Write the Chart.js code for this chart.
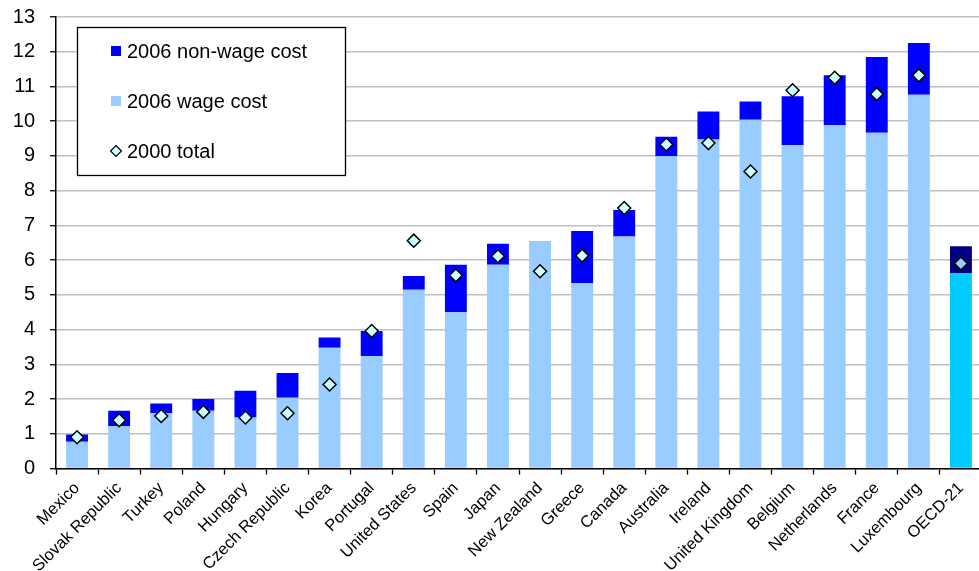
<!DOCTYPE html>
<html>
<head>
<meta charset="utf-8">
<script src="https://cdn.jsdelivr.net/npm/chart.js@4/dist/chart.umd.min.js"></script>
<style>
  html, body { margin: 0; padding: 0; background: #fff; overflow: hidden; }
  #wrap { width: 990px; height: 571px; }
</style>
</head>
<body>
<div id="wrap"><canvas id="c" width="990" height="571"></canvas></div>
<script>
// Hourly labour cost per country, 2006 split into wage and non-wage parts, with the 2000 total
const countries = ["Mexico", "Slovak Republic", "Turkey", "Poland", "Hungary", "Czech Republic", "Korea",
  "Portugal", "United States", "Spain", "Japan", "New Zealand", "Greece", "Canada", "Australia",
  "Ireland", "United Kingdom", "Belgium", "Netherlands", "France", "Luxembourg", "OECD-21"];

const wageCost2006 = [0.77, 1.22, 1.59, 1.66, 1.47, 2.04, 3.48, 3.24, 5.15, 4.50, 5.87, 6.55, 5.34,
  6.68, 8.99, 9.47, 10.04, 9.31, 9.88, 9.67, 10.76, 5.63];

const nonWageCost2006 = [0.21, 0.44, 0.28, 0.34, 0.77, 0.71, 0.29, 0.72, 0.39, 1.37, 0.60, 0.00, 1.50,
  0.76, 0.56, 0.81, 0.53, 1.41, 1.44, 2.18, 1.49, 0.77];

const total2000 = [0.90, 1.39, 1.51, 1.63, 1.47, 1.59, 2.42, 3.96, 6.56, 5.56, 6.11, 5.68, 6.13,
  7.50, 9.33, 9.37, 8.55, 10.89, 11.25, 10.78, 11.32, 5.90];

const yTicks = [0, 1, 2, 3, 4, 5, 6, 7, 8, 9, 10, 11, 12, 13];

const FONT = "'Liberation Sans', Arial, sans-serif";
const last = countries.length - 1;
const pick = (normal, avg) => countries.map((_, i) => (i === last ? avg : normal));

// Legend drawn inside the plot, as a framed box at the upper left
const boxLegend = {
  id: 'boxLegend',
  afterDraw(chart) {
    const ctx = chart.ctx;
    const x0 = 77.5, y0 = 27.5, w = 268, h = 148;
    ctx.save();
    ctx.fillStyle = '#fff';
    ctx.fillRect(x0, y0, w, h);
    ctx.strokeStyle = '#000';
    ctx.lineWidth = 1.3;
    ctx.strokeRect(x0, y0, w, h);
    ctx.font = '20px ' + FONT;
    ctx.textBaseline = 'middle';
    ctx.fillStyle = '#000';
    const items = [
      { text: chart.data.datasets[1].label, kind: 'box', color: '#0000FF', y: 51 },
      { text: chart.data.datasets[0].label, kind: 'box', color: '#99CCFF', y: 101 },
      { text: chart.data.datasets[2].label, kind: 'diamond', color: '#CCFFFF', y: 151 }
    ];
    items.forEach(it => {
      if (it.kind === 'box') {
        ctx.fillStyle = it.color;
        ctx.fillRect(111, it.y - 5, 10, 10);
      } else {
        ctx.beginPath();
        ctx.moveTo(116, it.y - 5.5);
        ctx.lineTo(121.5, it.y);
        ctx.lineTo(116, it.y + 5.5);
        ctx.lineTo(110.5, it.y);
        ctx.closePath();
        ctx.fillStyle = it.color;
        ctx.fill();
        ctx.lineWidth = 1.2;
        ctx.strokeStyle = '#000';
        ctx.stroke();
      }
      ctx.fillStyle = '#000';
      ctx.fillText(it.text, 127, it.y + 1);
    });
    ctx.restore();
  }
};

new Chart(document.getElementById('c'), {
  type: 'bar',
  data: {
    labels: countries,
    datasets: [
      {
        label: '2006 wage cost',
        data: wageCost2006,
        backgroundColor: pick('#99CCFF', '#00CCFF'),
        stack: 'costs',
        barPercentage: 0.52,
        categoryPercentage: 1,
        order: 1
      },
      {
        label: '2006 non-wage cost',
        data: nonWageCost2006,
        backgroundColor: pick('#0000FF', '#000080'),
        stack: 'costs',
        barPercentage: 0.52,
        categoryPercentage: 1,
        order: 2
      },
      {
        type: 'line',
        label: '2000 total',
        data: total2000,
        stack: 'diamonds',
        showLine: false,
        pointStyle: 'rectRot',
        pointRadius: 6.5,
        pointBackgroundColor: pick('#CCFFFF', '#99CCFF'),
        pointBorderColor: '#000',
        pointBorderWidth: 1.5,
        order: 0
      }
    ]
  },
  options: {
    responsive: false,
    animation: false,
    devicePixelRatio: 1,
    layout: { padding: { top: 17, right: 0, bottom: 0, left: 0 } },
    plugins: { legend: { display: false }, tooltip: { enabled: false } },
    scales: {
      x: {
        stacked: true,
        offset: true,
        grid: { display: true, drawOnChartArea: false, drawTicks: true, tickLength: 6, tickColor: '#000', tickWidth: 1.3 },
        border: { display: true, color: '#000', width: 1.5 },
        ticks: {
          autoSkip: false, minRotation: 45, maxRotation: 45, padding: 4,
          color: '#000', font: { family: FONT, size: 16.5 }
        },
        afterFit(scale) { scale.height = 102.5; }
      },
      y: {
        stacked: true,
        min: 0,
        max: 13,
        afterBuildTicks(scale) { scale.ticks = yTicks.map(v => ({ value: v })); },
        ticks: { color: '#000', padding: 15, font: { family: FONT, size: 20 } },
        grid: { color: '#c0c0c0', lineWidth: 1.5, tickColor: '#000', tickLength: 6, tickWidth: 1.3 },
        border: { display: true, color: '#000', width: 1.5 },
        afterFit(scale) {
          scale.width = 56;
          scale.paddingTop = 0;
          scale.paddingBottom = 0;
        }
      }
    }
  },
  plugins: [boxLegend]
});
</script>
</body>
</html>
